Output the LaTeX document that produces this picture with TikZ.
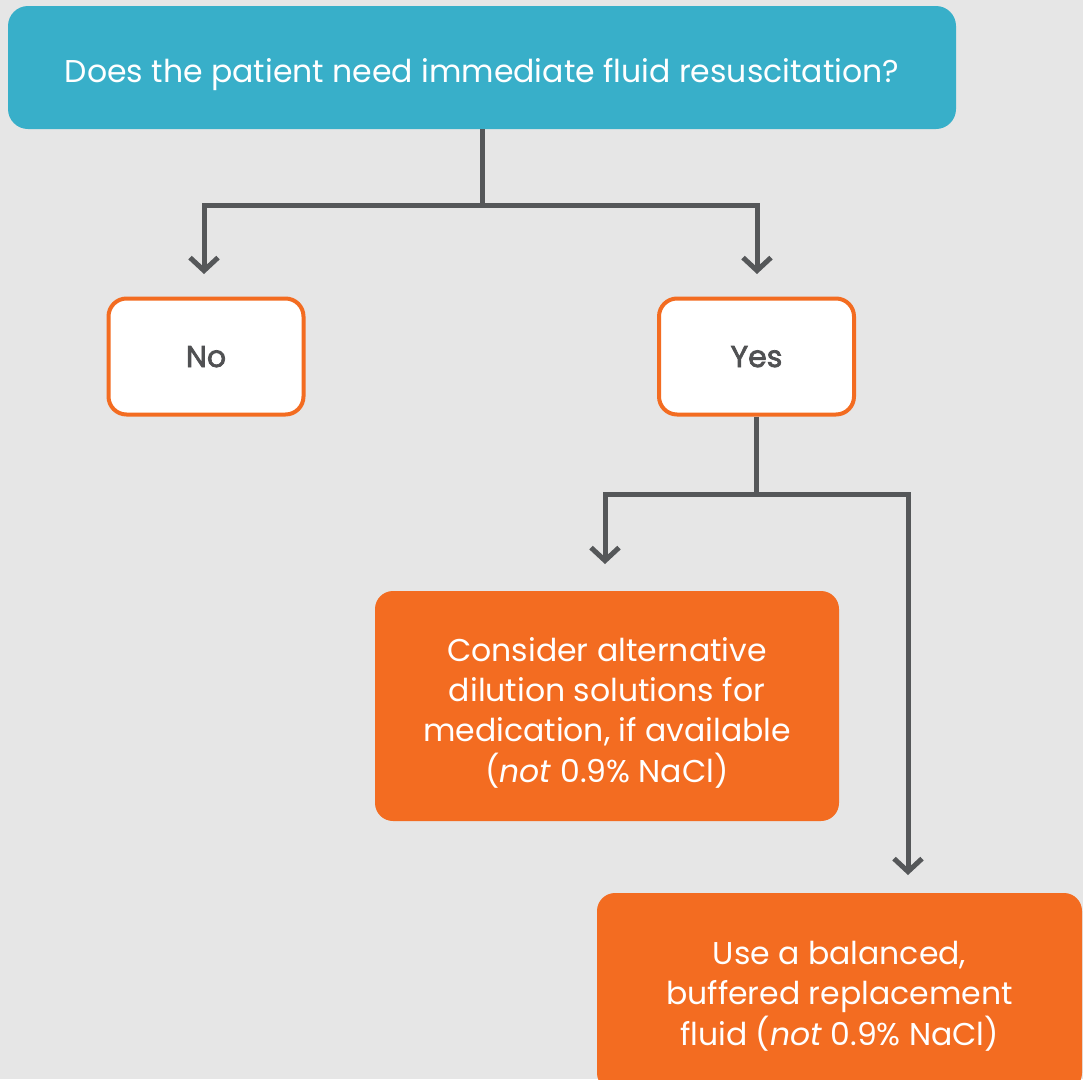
\documentclass[tikz,border=0pt]{standalone}
\usepackage{fontspec}
\setmainfont{Poppins}
\newfontfamily\medfont[FakeBold=2.4]{Poppins}
\usetikzlibrary{arrows.meta}
\definecolor{bg}{HTML}{E6E6E6}
\definecolor{qblue}{HTML}{38AFC9}
\definecolor{orng}{HTML}{F36C21}
\definecolor{lgray}{HTML}{555759}
\definecolor{tgray}{HTML}{505153}
\newcommand{\btext}[2]{\raisebox{#1}[0pt][0pt]{\begin{tabular}[t]{@{}c@{}}#2\end{tabular}}}
\tikzset{
  qbox/.style={rectangle, rounded corners=20pt, fill=qblue, text=white, minimum width=948pt, minimum height=123pt, font=\fontsize{31.5}{40}\selectfont, inner sep=0pt},
  ansbox/.style={rectangle, rounded corners=18pt, draw=orng, line width=4pt, fill=white, text=tgray, minimum width=195pt, minimum height=116pt, font=\fontsize{30}{40}\selectfont\medfont, inner sep=0pt},
  actbox/.style={rectangle, rounded corners=18pt, fill=orng, text=white, align=center, font=\fontsize{31.5}{40}\selectfont, inner sep=0pt},
  conn/.style={draw=lgray, line width=5pt},
  arr/.style={conn, -{Straight Barb[length=13pt,width=28pt,line width=5pt]}},
}
\begin{document}
\begin{tikzpicture}[x=1pt,y=-1pt]
\fill[bg] (0,0) rectangle (1083,1079);
\useasboundingbox (0,0) rectangle (1083,1079);
\begin{scope}
\clip (0,0) rectangle (1083,1079);
\node[qbox] (q) at (482,67.5) {\btext{-14.5pt}{Does the patient need immediate fluid resuscitation?}};
\node[ansbox] (no) at (206,356.5) {\btext{-10.5pt}{No}};
\node[ansbox] (yes) at (756.5,356.5) {\btext{-10.5pt}{Yes}};
\node[actbox, minimum width=464pt, minimum height=230pt] (alt) at (607,706) {\btext{45pt}{Consider alternative\\dilution solutions for\\medication, if available\\(\textit{not} 0.9\% NaCl)}};
\node[actbox, minimum width=485pt, minimum height=198pt] (buf) at (839.5,992) {\btext{28pt}{Use a balanced,\\buffered replacement\\fluid (\textit{not} 0.9\% NaCl)}};
\coordinate (j1) at (482,205);
\coordinate (t1) at (204,274);
\coordinate (t2) at (757,274);
\coordinate (j2) at (756.5,494);
\coordinate (t3) at (605,564);
\coordinate (t4) at (908,875);
\draw[conn] (q.south) -- (j1);
\draw[arr] (j1) -| (t1);
\draw[arr] (j1) -| (t2);
\draw[conn] (yes.south) -- (j2);
\draw[arr] (j2) -| (t3);
\draw[arr] (j2) -| (t4);
\end{scope}
\end{tikzpicture}
\end{document}
